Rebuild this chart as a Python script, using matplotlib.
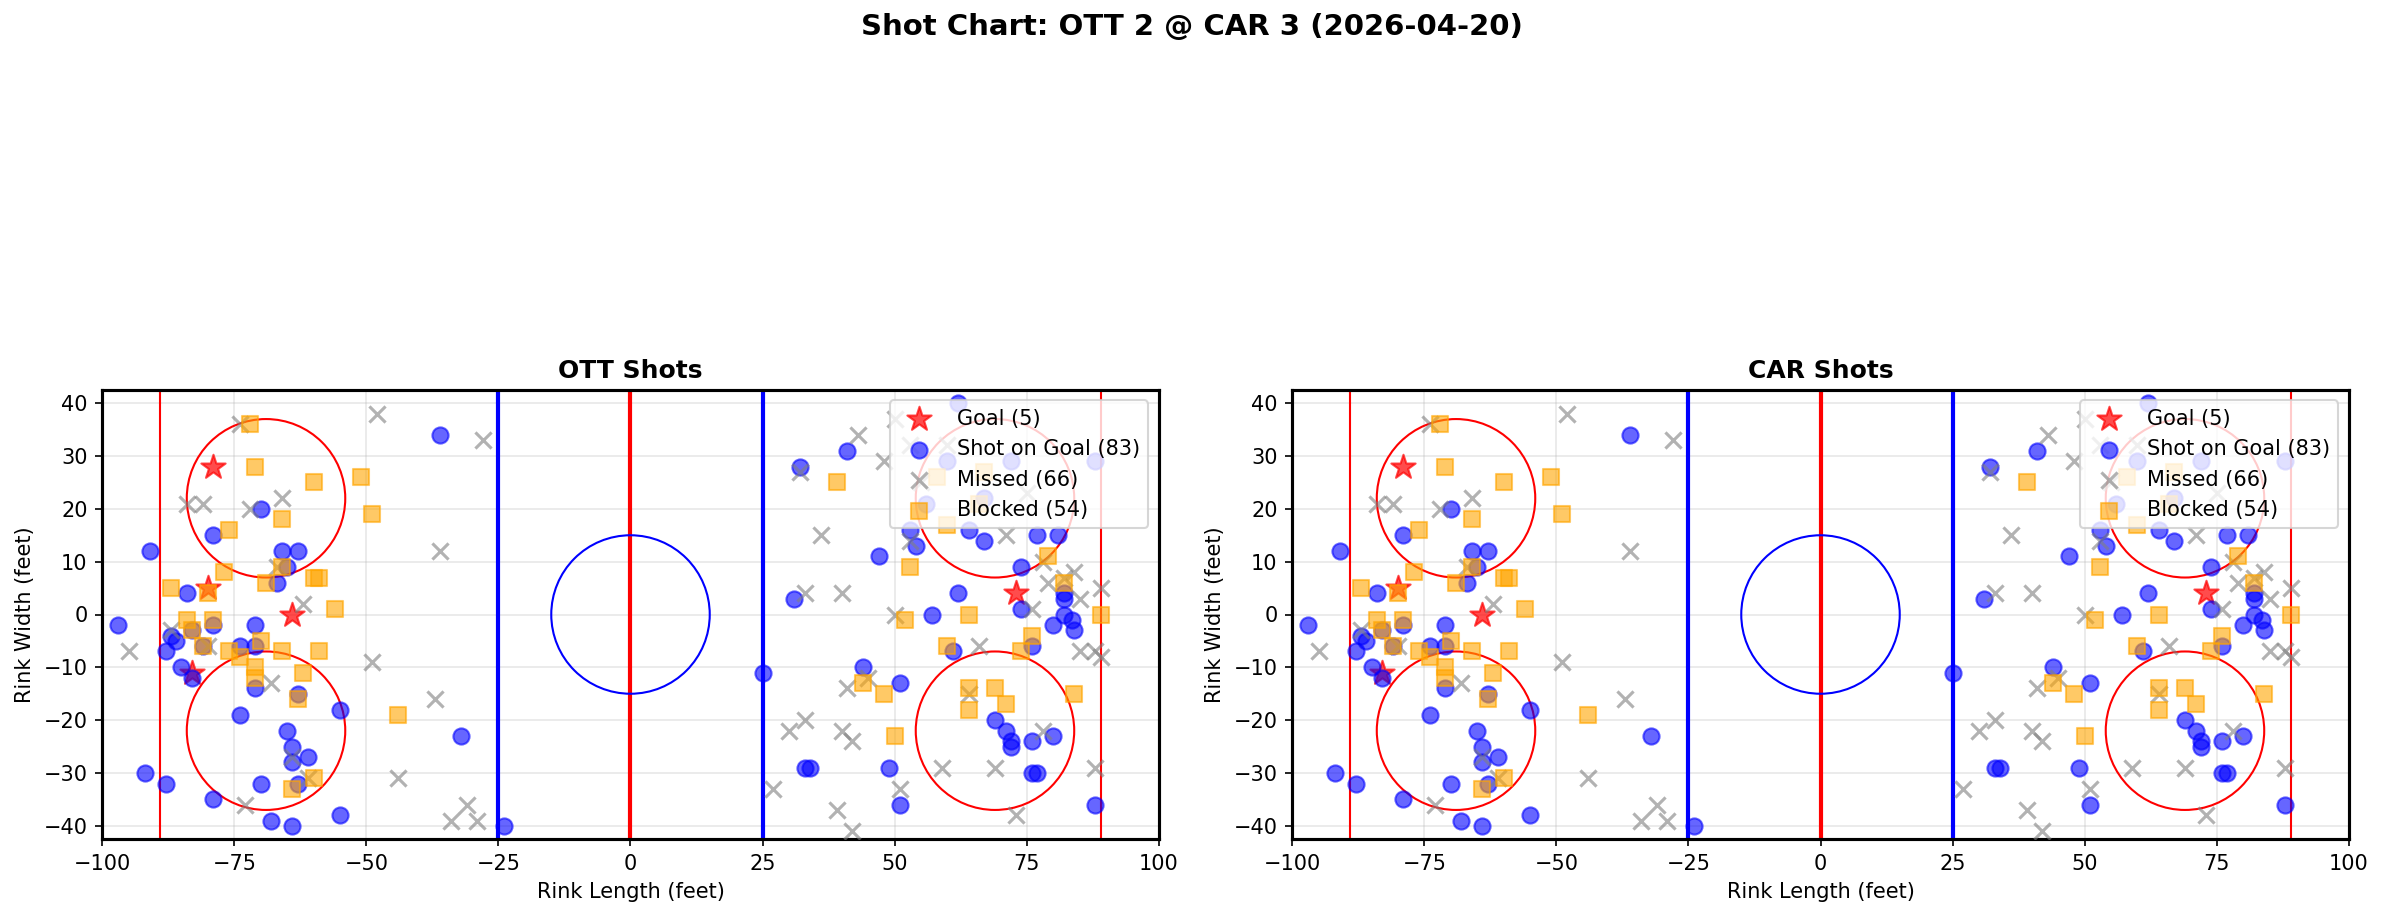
import matplotlib
matplotlib.use("Agg")
import matplotlib.pyplot as plt
from matplotlib.patches import Circle

# ---------------- data (feet) ----------------
goal_x = [-79, -80, -64, -83, 73]
goal_y = [28, 5, 0, -11, 4]

sog_x = [-36, -70, -79, -91, -66, -63, -65, -67, -84, -97, -87, -86, -83, -79, -81,
         -88, -85, -83, -71, -74, -71, -71, -63, -55, -74, -65, -64, -64, -61, -63,
         -70, -92, -88, -79, -68, -64, -55, -32, -24,
         25, 32, 31, 33, 62, 41, 47, 53, 54, 62, 74, 77, 81, 67, 64, 82, 82, 60, 72,
         88, 56, 67, 57, 74, 82, 83.5, 84, 80, 76, 61, 44, 51, 69, 71, 72, 72, 76,
         80, 76, 77, 34, 49, 51, 88]
sog_y = [34, 20, 15, 12, 12, 12, 9, 6, 4, -2, -4, -5, -3, -2, -6,
         -7, -10, -12, -2, -6, -6, -14, -15, -18, -19, -22, -25, -28, -27, -32,
         -32, -30, -32, -35, -39, -40, -38, -23, -40,
         -11, 28, 3, -29, 40, 31, 11, 16, 13, 4, 9, 15, 15, 14, 16, 4, 3, 29, 29,
         29, 21, 22, 0, 1, 0, -1, -3, -2, -6, -7, -10, -13, -20, -22, -24, -25, -24,
         -23, -30, -30, -29, -29, -36, -36]

miss_x = [-74, -48, -84, -81, -72, -66, -36, -67, -62, -87, -80, -95, -68, -49, -37,
          -64, -61, -73, -44, -34, -31, -29, -28,
          32, 33, 30, 33, 27, 50, 43, 48, 36, 53, 40, 71, 78, 79, 82, 84, 89, 85,
          60, 53, 55, 75, 50, 76, 85, 88, 89, 66, 45, 41, 64, 40, 42, 78, 59, 69,
          88, 51, 39, 42, 73]
miss_y = [36, 38, 21, 21, 20, 22, 12, 9, 2, -3, -6, -7, -13, -9, -16,
          -27, -31, -36, -31, -39, -36, -39, 33,
          27, 4, -22, -20, -33, 37, 34, 29, 15, 14, 4, 15, 10, 6, 7, 8, 5, 3,
          32, 32, 25, 23, 0, 1, -7, -7, -8, -6, -12, -14, -15, -22, -24, -22, -29, -29,
          -29, -33, -37, -41, -38]

block_x = [-72, -71, -60, -51, -66, -49, -76, -66, -77, -60, -59, -69, -87, -80, -56,
           -84, -79, -83, -81, -70, -76, -74, -71, -71, -66, -59, -62, -63, -44, -60,
           -64,
           39, 53, 79, 82, 58, 67, 60, 66, 52, 64, 89, 76, 74, 60, 44, 48, 64, 69,
           71, 64, 84, 50]
block_y = [36, 28, 25, 26, 18, 19, 16, 9, 8, 7, 7, 6, 5, 4, 1,
           -1, -1, -3, -6, -5, -7, -8, -10, -12, -7, -7, -11, -16, -19, -31,
           -33,
           25, 9, 11, 6, 26, 27, 17, 21, -1, 0, 0, -4, -7, -6, -13, -15, -14, -14,
           -17, -18, -15, -23]

counts = {"Goal": 5, "Shot on Goal": 83, "Missed": 66, "Blocked": 54}
panel_titles = ["OTT Shots", "CAR Shots"]
suptitle = "Shot Chart: OTT 2 @ CAR 3 (2026-04-20)"
x_ticks = [-100, -75, -50, -25, 0, 25, 50, 75, 100]
y_ticks = [-40, -30, -20, -10, 0, 10, 20, 30, 40]

# ---------------- figure ----------------
W, H, DPI = 2383, 919, 150
fig = plt.figure(figsize=(W / DPI, H / DPI), dpi=DPI)
plt.rcParams['font.family'] = ['DejaVu Sans']

ax_w = 1057 / W
ax_h = 449 / H
bottom = 80 / H
lefts = [102 / W, 1292 / W]


def draw_rink(ax):
    ax.axvline(0, color='red', lw=2, zorder=1)
    ax.axvline(-25, color='blue', lw=2, zorder=1)
    ax.axvline(25, color='blue', lw=2, zorder=1)
    ax.axvline(-89, color='red', lw=1, zorder=1)
    ax.axvline(89, color='red', lw=1, zorder=1)
    ax.add_patch(Circle((0, 0), 15, fill=False, color='blue', lw=1, zorder=1))
    for cx in (-69, 69):
        for cy in (-22, 22):
            ax.add_patch(Circle((cx, cy), 15, fill=False, color='red', lw=1, zorder=1))


for i, title in enumerate(panel_titles):
    ax = fig.add_axes([lefts[i], bottom, ax_w, ax_h])
    draw_rink(ax)
    ax.scatter(goal_x, goal_y, marker='*', s=150, c='red', alpha=0.7,
               label=f"Goal ({counts['Goal']})", zorder=3)
    ax.scatter(sog_x, sog_y, marker='o', s=60, c='blue', alpha=0.6,
               label=f"Shot on Goal ({counts['Shot on Goal']})", zorder=3)
    ax.scatter(miss_x, miss_y, marker='x', s=60, c='gray', alpha=0.6,
               label=f"Missed ({counts['Missed']})", zorder=3)
    ax.scatter(block_x, block_y, marker='s', s=60, c='orange', alpha=0.6,
               label=f"Blocked ({counts['Blocked']})", zorder=3)
    ax.set_xlim(-100, 100)
    ax.set_ylim(-42.5, 42.5)
    ax.set_aspect('equal')
    ax.set_xticks(x_ticks)
    ax.set_yticks(y_ticks)
    ax.tick_params(labelsize=10)
    ax.grid(True, alpha=0.3)
    ax.set_axisbelow(True)
    for sp in ax.spines.values():
        sp.set_linewidth(1.5)
    ax.set_xlabel("Rink Length (feet)", fontsize=10)
    ax.set_ylabel("Rink Width (feet)", fontsize=10)
    ax.set_title(title, fontsize=12, fontweight='bold')
    ax.legend(loc='upper right', fontsize=10)

fig.suptitle(suptitle, fontsize=14, fontweight='bold', y=0.971, va='center')
fig.savefig("out.png", dpi=DPI)
